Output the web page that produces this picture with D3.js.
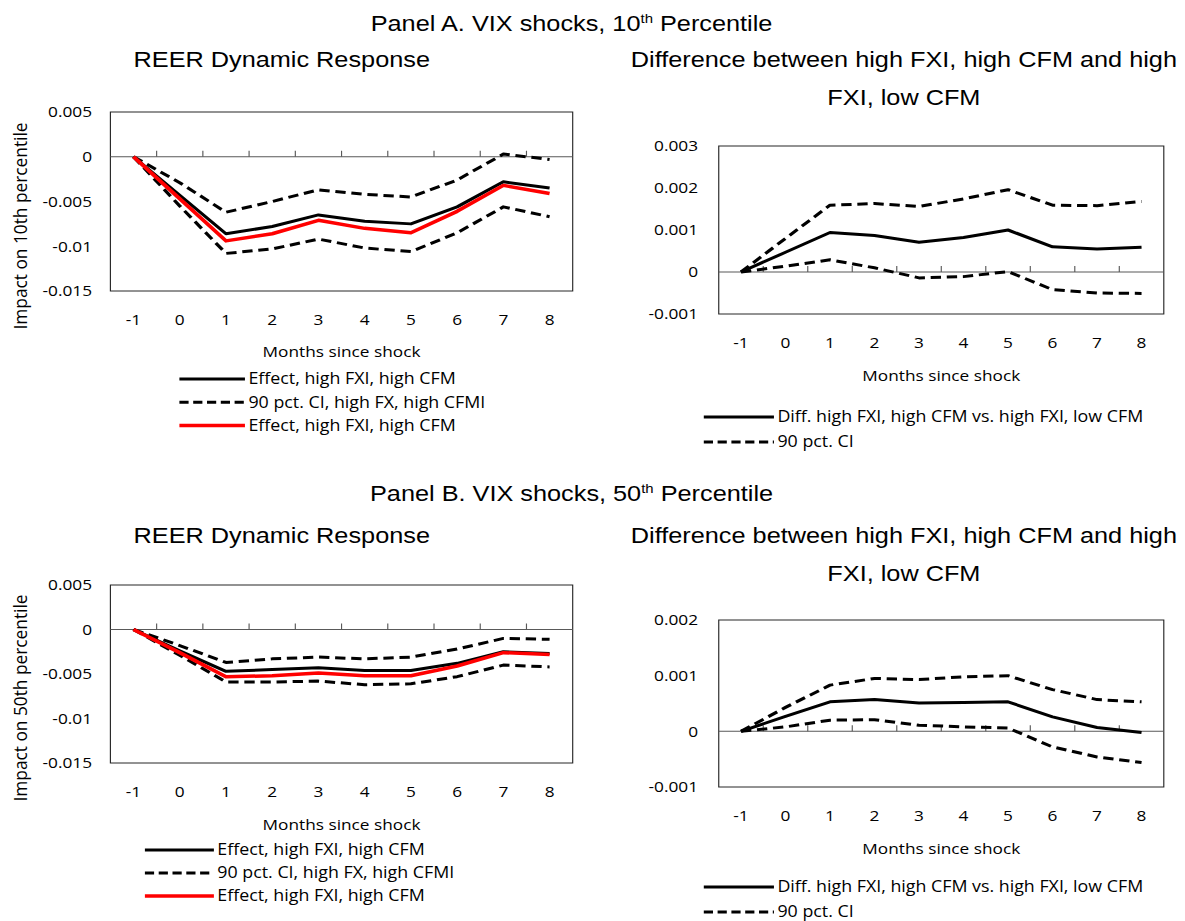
<!DOCTYPE html>
<html>
<head>
<meta charset="utf-8">
<script src="https://cdn.jsdelivr.net/npm/d3@7"></script>
<style>
  body { margin: 0; background: #fff; }
  svg { display: block; }
</style>
</head>
<body>
<script>
var months = [-1, 0, 1, 2, 3, 4, 5, 6, 7, 8];

// Panel A, 10th percentile
var a10Effect = [0, -0.0043, -0.0086, -0.0078, -0.0065, -0.0072, -0.0075, -0.0056, -0.0028, -0.0035];
var a10Upper  = [0, -0.0029, -0.0062, -0.0050, -0.0037, -0.0042, -0.0045, -0.0026, 0.0003, -0.0003];
var a10Lower  = [0, -0.0055, -0.0108, -0.0103, -0.0092, -0.0102, -0.0106, -0.0085, -0.0056, -0.0067];
var a10Red    = [0, -0.0047, -0.0094, -0.0086, -0.0071, -0.0080, -0.0085, -0.0061, -0.0032, -0.0041];
var a10Diff   = [0, 0.00047, 0.00094, 0.00087, 0.00071, 0.00082, 0.00100, 0.00060, 0.00055, 0.00059];
var a10DiffUp = [0, 0.00080, 0.00159, 0.00163, 0.00156, 0.00174, 0.00196, 0.00159, 0.00158, 0.00168];
var a10DiffLo = [0, 0.00014, 0.00029, 0.00010, -0.00014, -0.00011, 0.00001, -0.00042, -0.00050, -0.00051];

// Panel B, 50th percentile
var b50Effect = [0, -0.0024, -0.0047, -0.0045, -0.0043, -0.0046, -0.0046, -0.0038, -0.0025, -0.0027];
var b50Upper  = [0, -0.0018, -0.0037, -0.0033, -0.0031, -0.0033, -0.0031, -0.0022, -0.0010, -0.0011];
var b50Lower  = [0, -0.0029, -0.0059, -0.0059, -0.0058, -0.0062, -0.0061, -0.0053, -0.0040, -0.0042];
var b50Red    = [0, -0.0026, -0.0053, -0.0052, -0.0049, -0.0052, -0.0052, -0.0041, -0.0026, -0.0028];
var b50Diff   = [0, 0.00027, 0.00053, 0.00057, 0.00051, 0.00052, 0.00053, 0.00026, 0.00007, -0.00002];
var b50DiffUp = [0, 0.00043, 0.00083, 0.00095, 0.00093, 0.00098, 0.00100, 0.00075, 0.00057, 0.00053];
var b50DiffLo = [0, 0.00008, 0.00020, 0.00021, 0.00011, 0.00008, 0.00006, -0.00028, -0.00046, -0.00056];

var responseTicks = [0.005, 0, -0.005, -0.01, -0.015];
var diffTicksA = [0.003, 0.002, 0.001, 0, -0.001];
var diffTicksB = [0.002, 0.001, 0, -0.001];

var legendResponse = ["Effect, high FXI, high CFM", "90 pct. CI, high FX, high CFMI", "Effect, high FXI, high CFM"];
var legendDiff = ["Diff. high FXI, high CFM vs. high FXI, low CFM", "90 pct. CI"];

var W = 1185, H = 921;
// the figure is a bit wider than it is tall, so everything is stretched sideways
var STRETCH = 1.15;
var titleFont = "'Liberation Sans', Arial, sans-serif";
var axisFont = "'Open Sans', 'Noto Sans', sans-serif";
var DASH = "9,5";

var svg = d3.select("body").append("svg")
  .attr("width", W)
  .attr("height", H);

var root = svg.append("g")
  .attr("transform", "scale(" + STRETCH + ",1)");

function panelTitle(text, pct, y) {
  var t = root.append("text")
    .attr("x", 497).attr("y", y)
    .attr("text-anchor", "middle")
    .style("font-family", titleFont)
    .style("font-size", "22px")
    .text(text + pct);
  t.append("tspan").attr("dy", -8).style("font-size", "13px").text("th");
  t.append("tspan").attr("dy", 8).text(" Percentile");
}

function chartTitle(lines, cx, y) {
  lines.forEach(function(line, i) {
    root.append("text")
      .attr("x", cx).attr("y", y + i * 38)
      .attr("text-anchor", "middle")
      .style("font-family", titleFont)
      .style("font-size", "22px")
      .text(line);
  });
}

function drawChart(o) {
  var x = d3.scaleBand().domain(months).range([o.x0, o.x1]).padding(0);
  var y = d3.scaleLinear().domain([o.ticks[o.ticks.length - 1], o.ticks[0]]).range([o.y1, o.y0]);
  var g = root.append("g");

  // frame
  g.append("rect")
    .attr("x", o.x0).attr("y", o.y0)
    .attr("width", o.x1 - o.x0).attr("height", o.y1 - o.y0)
    .attr("fill", "none").attr("stroke", "#262626").attr("stroke-width", 1);

  // y labels
  g.append("g")
    .attr("transform", "translate(" + o.x0 + ",0)")
    .call(d3.axisLeft(y).tickValues(o.ticks).tickSize(0).tickPadding(o.yPad)
      .tickFormat(function(d) { return d === 0 ? "0" : String(d); }))
    .call(function(s) { s.select(".domain").remove(); })
    .selectAll("text")
    .style("font-family", axisFont).style("font-size", "15px").attr("fill", "#000");

  // x labels
  g.append("g")
    .attr("transform", "translate(0," + o.y1 + ")")
    .call(d3.axisBottom(x).tickSize(0).tickPadding(23))
    .call(function(s) { s.select(".domain").remove(); })
    .selectAll("text")
    .style("font-family", axisFont).style("font-size", "15px").attr("fill", "#000");

  // zero line with tick marks between categories
  g.append("line")
    .attr("x1", o.x0).attr("x2", o.x1)
    .attr("y1", y(0)).attr("y2", y(0))
    .attr("stroke", "#595959").attr("stroke-width", 1);
  g.selectAll(".cat-tick")
    .data(months.slice(1))
    .enter().append("line")
    .attr("x1", function(d) { return x(d); })
    .attr("x2", function(d) { return x(d); })
    .attr("y1", y(0)).attr("y2", y(0) - 6)
    .attr("stroke", "#595959").attr("stroke-width", 1);

  var line = d3.line()
    .x(function(d, i) { return x(months[i]) + x.bandwidth() / 2; })
    .y(function(d) { return y(d); });

  o.series.forEach(function(s) {
    g.append("path")
      .datum(s.values)
      .attr("d", line)
      .attr("fill", "none")
      .attr("stroke", s.color)
      .attr("stroke-width", s.width)
      .attr("stroke-linejoin", "round")
      .attr("stroke-dasharray", s.dash ? DASH : null);
  });

  // axis titles
  g.append("text")
    .attr("x", (o.x0 + o.x1) / 2).attr("y", o.xTitleY)
    .attr("text-anchor", "middle")
    .style("font-family", axisFont).style("font-size", "15px")
    .text("Months since shock");

  if (o.yLabel) {
    g.append("text")
      .attr("transform", "translate(18," + o.yLabelY + ") rotate(-90)")
      .attr("text-anchor", "middle")
      .attr("dy", "0.35em")
      .attr("textLength", 207)
      .attr("lengthAdjust", "spacingAndGlyphs")
      .style("font-family", axisFont).style("font-size", "16px")
      .text(o.yLabel);
  }

  // legend
  o.legend.items.forEach(function(item, i) {
    var ly = o.legend.y + i * o.legend.step;
    g.append("line")
      .attr("x1", o.legend.x).attr("x2", o.legend.x + o.legend.len)
      .attr("y1", ly).attr("y2", ly)
      .attr("stroke", item.color).attr("stroke-width", item.width)
      .attr("stroke-dasharray", item.dash ? "8,4" : null);
    g.append("text")
      .attr("x", o.legend.x + o.legend.len + 3).attr("y", ly)
      .attr("dy", "0.35em")
      .style("font-family", axisFont).style("font-size", "15.5px")
      .text(item.label);
  });
}

function responseSeries(eff, up, lo, red) {
  return [
    { values: eff, color: "#000", width: 3 },
    { values: up, color: "#000", width: 3, dash: true },
    { values: lo, color: "#000", width: 3, dash: true },
    { values: red, color: "#ff0000", width: 3.5 }
  ];
}

function diffSeries(diff, up, lo) {
  return [
    { values: diff, color: "#000", width: 3 },
    { values: up, color: "#000", width: 3, dash: true },
    { values: lo, color: "#000", width: 3, dash: true }
  ];
}

var respLegend = [
  { label: legendResponse[0], color: "#000", width: 3 },
  { label: legendResponse[1], color: "#000", width: 3, dash: true },
  { label: legendResponse[2], color: "#ff0000", width: 3.5 }
];
var diffLegend = [
  { label: legendDiff[0], color: "#000", width: 3 },
  { label: legendDiff[1], color: "#000", width: 3, dash: true }
];

// ---- Panel A ----
panelTitle("Panel A. VIX shocks, ", "10", 31);
chartTitle(["REER Dynamic Response"], 245, 67);
chartTitle(["Difference between high FXI, high CFM and high", "FXI, low CFM"], 786, 67);

drawChart({
  x0: 96, x1: 498, y0: 112, y1: 291, yPad: 16,
  ticks: responseTicks,
  series: responseSeries(a10Effect, a10Upper, a10Lower, a10Red),
  xTitleY: 357,
  yLabel: "Impact on 10th percentile", yLabelY: 226,
  legend: { x: 156, len: 57, y: 379, step: 23.3, items: respLegend }
});

drawChart({
  x0: 625, x1: 1012, y0: 146, y1: 314, yPad: 18,
  ticks: diffTicksA,
  series: diffSeries(a10Diff, a10DiffUp, a10DiffLo),
  xTitleY: 381,
  legend: { x: 612, len: 61, y: 417, step: 25, items: diffLegend }
});

// ---- Panel B ----
panelTitle("Panel B. VIX shocks, ", "50", 501);
chartTitle(["REER Dynamic Response"], 245, 543);
chartTitle(["Difference between high FXI, high CFM and high", "FXI, low CFM"], 786, 543);

drawChart({
  x0: 96, x1: 498, y0: 585, y1: 763, yPad: 16,
  ticks: responseTicks,
  series: responseSeries(b50Effect, b50Upper, b50Lower, b50Red),
  xTitleY: 830,
  yLabel: "Impact on 50th percentile", yLabelY: 698,
  legend: { x: 126, len: 60, y: 850, step: 23, items: respLegend }
});

drawChart({
  x0: 625, x1: 1012, y0: 620, y1: 787, yPad: 18,
  ticks: diffTicksB,
  series: diffSeries(b50Diff, b50DiffUp, b50DiffLo),
  xTitleY: 854,
  legend: { x: 612, len: 61, y: 887, step: 25, items: diffLegend }
});
</script>
</body>
</html>
